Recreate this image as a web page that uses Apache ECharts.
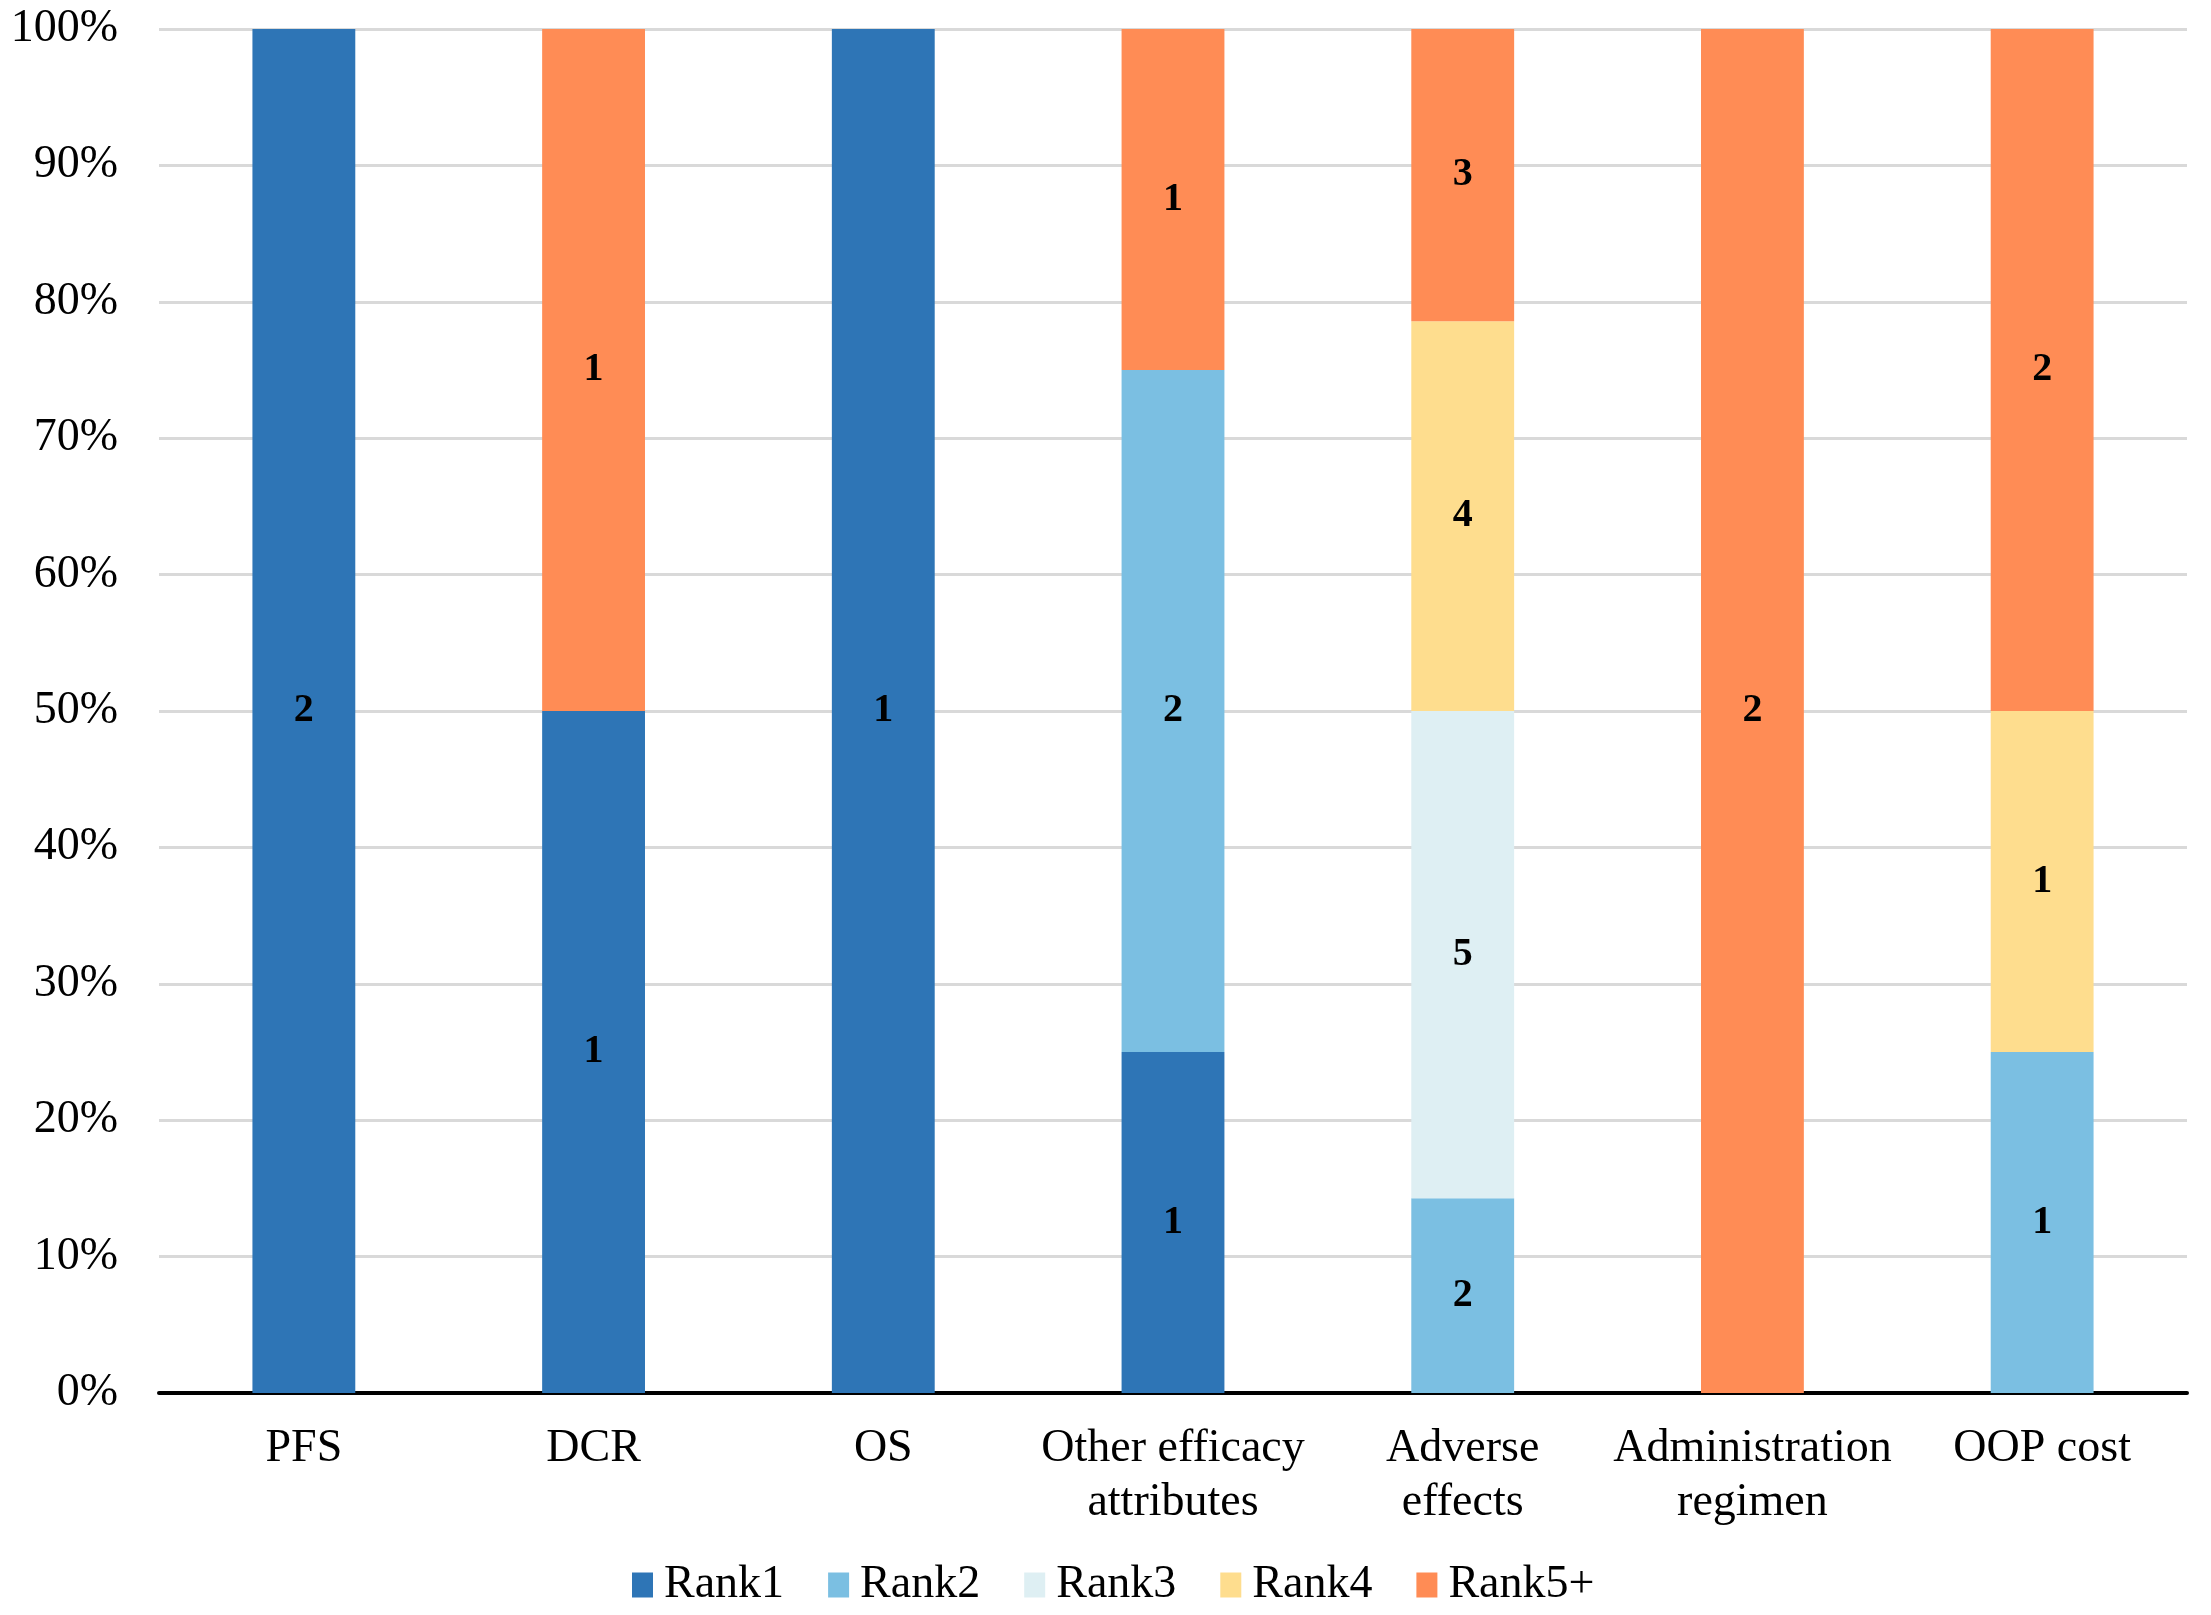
<!DOCTYPE html>
<html>
<head>
<meta charset="utf-8">
<style>
html,body{margin:0;padding:0;background:#fff;}
#chart{width:2211px;height:1615px;}
</style>
<script src="https://cdn.jsdelivr.net/npm/echarts@6/dist/echarts.min.js"></script>
</head>
<body>
<div id="chart"></div>
<script>
var categories = ['PFS', 'DCR', 'OS', 'Other efficacy\nattributes', 'Adverse\neffects', 'Administration\nregimen', 'OOP cost'];
var seriesNames = ['Rank1', 'Rank2', 'Rank3', 'Rank4', 'Rank5+'];
// counts of respondents per rank (labels shown in the segments)
var rank1 = [2, 1, 1, 1, 0, 0, 0];
var rank2 = [0, 0, 0, 2, 2, 0, 1];
var rank3 = [0, 0, 0, 0, 5, 0, 0];
var rank4 = [0, 0, 0, 0, 4, 0, 1];
var rank5 = [0, 1, 0, 1, 3, 2, 2];
var yTicks = [0, 10, 20, 30, 40, 50, 60, 70, 80, 90, 100];
var colors = ['#2E75B6', '#7BBFE2', '#DEEFF3', '#FEDD8E', '#FF8C55'];

var counts = [rank1, rank2, rank3, rank4, rank5];
var totals = categories.map(function (c, i) {
  return counts.reduce(function (s, arr) { return s + arr[i]; }, 0);
});

var FONT = '"Liberation Serif", "Times New Roman", serif';

var series = seriesNames.map(function (name, k) {
  return {
    name: name,
    type: 'bar',
    stack: 'total',
    barWidth: '35.5%',
    itemStyle: { color: colors[k] },
    data: counts[k].map(function (v, i) {
      return v === 0 ? '-' : { value: v / totals[i] * 100, count: v };
    }),
    label: {
      show: true,
      position: 'inside',
      color: '#000',
      fontFamily: FONT,
      fontWeight: 'bold',
      fontSize: 40,
      formatter: function (p) { return p.data && p.data.count ? String(p.data.count) : ''; }
    },
    emphasis: { disabled: true }
  };
});

var chart = echarts.init(document.getElementById('chart'), null, { renderer: 'canvas' });
chart.setOption({
  animation: false,
  backgroundColor: '#fff',
  color: colors,
  grid: { left: 159, right: 24, top: 29, bottom: 222, containLabel: false },
  legend: {
    data: seriesNames,
    left: 627,
    top: 1554,
    itemWidth: 21,
    itemHeight: 25,
    itemGap: 44,
    icon: 'rect',
    textStyle: { fontFamily: FONT, fontSize: 46, color: '#000', lineHeight: 52, padding: [0, 0, 0, 6] }
  },
  xAxis: {
    type: 'category',
    data: categories,
    axisLine: { show: true, lineStyle: { color: '#000', width: 4 } },
    axisTick: { show: false },
    axisLabel: {
      color: '#000',
      fontFamily: FONT,
      fontSize: 46,
      lineHeight: 54,
      margin: 29,
      interval: 0
    }
  },
  yAxis: {
    type: 'value',
    min: yTicks[0],
    max: yTicks[yTicks.length - 1],
    interval: yTicks[1] - yTicks[0],
    axisLine: { show: false },
    axisTick: { show: false },
    splitLine: { show: true, lineStyle: { color: '#D9D9D9', width: 3 } },
    axisLabel: {
      color: '#000',
      fontFamily: FONT,
      fontSize: 46,
      margin: 41,
      formatter: function (v) { return v + '%'; }
    }
  },
  series: series
});
</script>
</body>
</html>
